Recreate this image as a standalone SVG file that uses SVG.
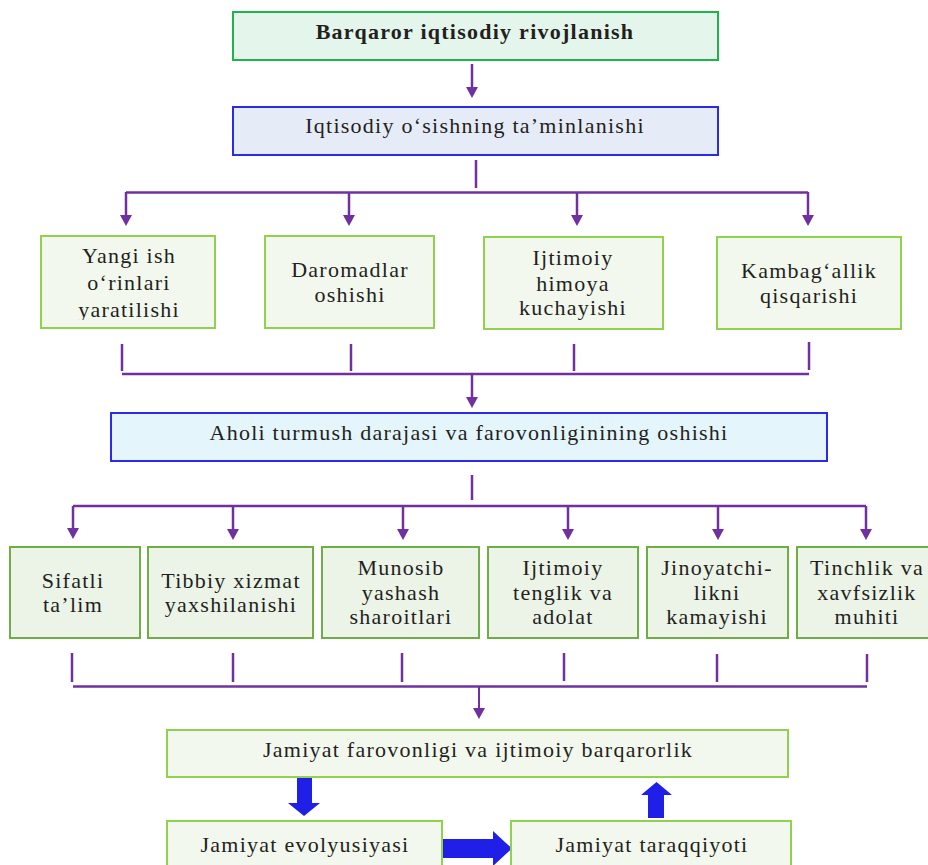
<svg xmlns="http://www.w3.org/2000/svg" width="928" height="865" viewBox="0 0 928 865">
<defs>
<style>
text{font-family:"Liberation Serif","Times New Roman",serif;font-size:22px;fill:#231f20;text-anchor:middle;letter-spacing:1.25px}
.b{font-weight:bold}
.top{fill:#e4f5ec;stroke:#22b24c;stroke-width:2}
.blue1{fill:#e6ecf7;stroke:#2a2ae8;stroke-width:2}
.blue2{fill:#e4f5fc;stroke:#2a2ae8;stroke-width:2}
.g1{fill:#f3f8ee;stroke:#92d050;stroke-width:2}
.g2{fill:#ecf4e8;stroke:#70ad47;stroke-width:2}
.c{fill:none;stroke:#7030a0;stroke-width:2.5}
.ca{fill:none;stroke:#7030a0;stroke-width:2.5;marker-end:url(#ah)}
.bl{fill:#1f1fe8}
</style>
<marker id="ah" viewBox="0 0 11 12" markerWidth="11" markerHeight="12" refX="8" refY="6" orient="auto" markerUnits="userSpaceOnUse">
<path d="M0,0 L11,6 L0,12 z" fill="#7030a0"/>
</marker>
<clipPath id="clip1"><rect x="41" y="236" width="174" height="84"/></clipPath>
</defs>

<g id="connectors">
<line class="ca" x1="472" y1="64" x2="472" y2="95"/>
<line class="c" x1="476" y1="160" x2="476" y2="188"/>
<line class="c" x1="126" y1="192.5" x2="808" y2="192.5"/>
<line class="ca" x1="126" y1="192" x2="126" y2="223"/>
<line class="ca" x1="349" y1="192" x2="349" y2="223"/>
<line class="ca" x1="577" y1="192" x2="577" y2="223"/>
<line class="ca" x1="808" y1="192" x2="808" y2="223"/>
<line class="c" x1="122" y1="344" x2="122" y2="371"/>
<line class="c" x1="351" y1="344" x2="351" y2="371"/>
<line class="c" x1="574" y1="344" x2="574" y2="371"/>
<line class="c" x1="809" y1="342" x2="809" y2="370"/>
<line class="c" x1="122" y1="374" x2="809" y2="374"/>
<line class="ca" x1="472" y1="374" x2="472" y2="405"/>
<line class="c" x1="472" y1="475" x2="472" y2="500"/>
<line class="c" x1="73" y1="506" x2="866" y2="506"/>
<line class="ca" x1="73" y1="506" x2="73" y2="536"/>
<line class="ca" x1="233" y1="506" x2="233" y2="537"/>
<line class="ca" x1="403" y1="506" x2="403" y2="537"/>
<line class="ca" x1="568" y1="506" x2="568" y2="537"/>
<line class="ca" x1="718" y1="506" x2="718" y2="537"/>
<line class="ca" x1="866" y1="506" x2="866" y2="537"/>
<line class="c" x1="72" y1="653" x2="72" y2="682"/>
<line class="c" x1="233" y1="653" x2="233" y2="682"/>
<line class="c" x1="402" y1="653" x2="402" y2="682"/>
<line class="c" x1="564" y1="653" x2="564" y2="681"/>
<line class="c" x1="717" y1="654" x2="717" y2="682"/>
<line class="c" x1="867" y1="654" x2="867" y2="682"/>
<line class="c" x1="73" y1="686.5" x2="867" y2="686.5"/>
<line class="ca" x1="479" y1="686" x2="479" y2="716" style="stroke-width:2"/>
<polygon class="bl" points="297,778 312,778 312,803 320,803 304,816 288,803 297,803"/>
<polygon class="bl" points="648,818 648,795 641,795 656.5,782 672,795 664,795 664,818"/>
<polygon class="bl" points="438,839 493,839 493,831 512,848.5 493,866 493,858 438,858"/>
</g>

<g id="n-barqaror">
<rect class="top" x="233" y="12" width="485" height="48"/>
<text class="b" x="475" y="39">Barqaror iqtisodiy rivojlanish</text>
</g>
<g id="n-iqtisodiy">
<rect class="blue1" x="233" y="107" width="485" height="48"/>
<text x="475" y="133">Iqtisodiy o‘sishning ta’minlanishi</text>
</g>

<g id="n-yangi">
<rect class="g1" x="41" y="236" width="174" height="92"/>
<g clip-path="url(#clip1)">
<text x="129" y="263">Yangi ish</text>
<text x="129" y="290">o‘rinlari</text>
<text x="129" y="317">yaratilishi</text>
</g>
</g>
<g id="n-daromad">
<rect class="g1" x="265" y="236" width="169" height="92"/>
<text x="350" y="277">Daromadlar</text>
<text x="350" y="302">oshishi</text>
</g>
<g id="n-himoya">
<rect class="g1" x="484" y="237" width="179" height="92"/>
<text x="573" y="265">Ijtimoiy</text>
<text x="573" y="291">himoya</text>
<text x="573" y="315">kuchayishi</text>
</g>
<g id="n-kambag">
<rect class="g1" x="717" y="237" width="184" height="92"/>
<text x="809" y="278">Kambag‘allik</text>
<text x="809" y="303">qisqarishi</text>
</g>

<g id="n-aholi">
<rect class="blue2" x="111" y="413" width="716" height="48"/>
<text x="469" y="440">Aholi turmush darajasi va farovonliginining oshishi</text>
</g>

<g id="n-sifatli">
<rect class="g2" x="10" y="547" width="130" height="91"/>
<text x="73" y="588">Sifatli</text>
<text x="73" y="612">ta’lim</text>
</g>
<g id="n-tibbiy">
<rect class="g2" x="148" y="547" width="165" height="91"/>
<text x="231" y="588">Tibbiy xizmat</text>
<text x="231" y="612">yaxshilanishi</text>
</g>
<g id="n-munosib">
<rect class="g2" x="322" y="547" width="157" height="91"/>
<text x="401" y="575">Munosib</text>
<text x="401" y="600">yashash</text>
<text x="401" y="624">sharoitlari</text>
</g>
<g id="n-tenglik">
<rect class="g2" x="488" y="547" width="150" height="91"/>
<text x="563" y="575">Ijtimoiy</text>
<text x="563" y="600">tenglik va</text>
<text x="563" y="624">adolat</text>
</g>
<g id="n-jinoyat">
<rect class="g2" x="647" y="547" width="141" height="91"/>
<text x="717" y="575">Jinoyatchi-</text>
<text x="717" y="600">likni</text>
<text x="717" y="624">kamayishi</text>
</g>
<g id="n-tinchlik">
<rect class="g2" x="797" y="547" width="140" height="91"/>
<text x="867" y="575">Tinchlik va</text>
<text x="867" y="600">xavfsizlik</text>
<text x="867" y="624">muhiti</text>
</g>

<g id="n-jamiyat-farovonligi">
<rect class="g1" x="167" y="730" width="621" height="47"/>
<text x="478" y="757">Jamiyat farovonligi va ijtimoiy barqarorlik</text>
</g>
<g id="n-evolyusiya">
<rect class="g1" x="167" y="821" width="275" height="60"/>
<text x="305" y="852">Jamiyat evolyusiyasi</text>
</g>
<g id="n-taraqqiyot">
<rect class="g1" x="511" y="821" width="280" height="60"/>
<text x="652" y="852">Jamiyat taraqqiyoti</text>
</g>
</svg>
